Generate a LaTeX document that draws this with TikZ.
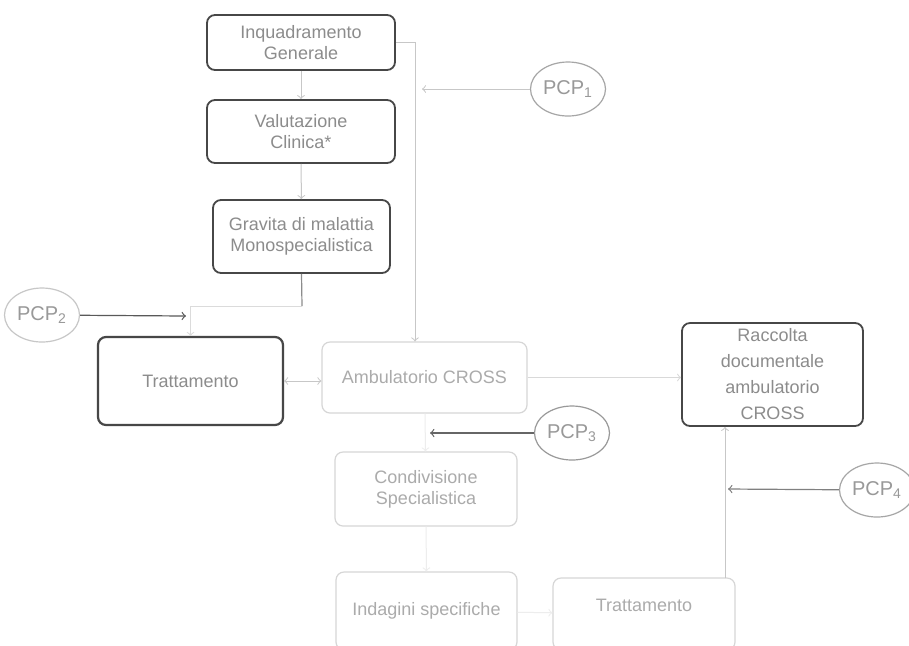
\documentclass[tikz,border=0pt]{standalone}
\usepackage{fontspec}
\setmainfont{Liberation Sans}
\usetikzlibrary{shapes.geometric}
\tikzset{
	darkbox/.style={draw=black!72, line width=0.9pt, rounded corners=4pt, text=black!45, align=center, inner sep=0pt},
	lightbox/.style={draw=black!16, line width=0.6pt, rounded corners=4pt, text=black!33, align=center, inner sep=0pt},
	pcp/.style={ellipse, draw=black!35, line width=0.6pt, text=black!40, inner sep=0pt, minimum width=37.5pt, minimum height=27pt, font=\fontsize{10}{12}\selectfont},
	faint/.style={draw=black!22, line width=0.5pt, ->},
}

\begin{document}
\begin{tikzpicture}[x=0.5pt, y=-0.5pt, font=\fontsize{9}{10.5}\selectfont]
		%%%%% START %%%%%
		
		\fill[white] (0, 0) rectangle (909, 645);
		\useasboundingbox (0, 0) rectangle (909, 645);
		\clip (0, 0) rectangle (909, 645);
		
		\node[darkbox, minimum width=94pt, minimum height=27.5pt] (inq) at (301, 42.5) {Inquadramento\\Generale};
		\node[darkbox, minimum width=94pt, minimum height=31.5pt] (val) at (301, 131.5) {Valutazione\\Clinica*};
		\node[darkbox, minimum width=88.5pt, minimum height=36.5pt] (grav) at (301.5, 236.5) {Gravita di malattia\\Monospecialistica};
		
		\node[darkbox, line width=1.1pt, minimum width=92.5pt, minimum height=44pt] (trat) at (190.5, 381) {Trattamento};
		\node[lightbox, minimum width=102.5pt, minimum height=35.5pt] (amb) at (424.5, 377.5) {Ambulatorio CROSS};
		\node[darkbox, minimum width=90.5pt, minimum height=51.5pt, font=\fontsize{9}{13}\selectfont] (rac) at (772.5, 374.5) {Raccolta\\documentale\\ambulatorio\\CROSS};
		
		\node[lightbox, minimum width=91pt, minimum height=37pt] (cond) at (426, 489) {Condivisione\\Specialistica};
		\node[lightbox, minimum width=90.5pt, minimum height=39pt, text depth=2pt] (ind) at (426.5, 611) {Indagini specifiche};
		\node[lightbox, minimum width=91pt, minimum height=36pt, text depth=9pt] (trat2) at (644, 614) {Trattamento};
		
		\node[pcp] (pcp1) at (568, 89) {PCP\textsubscript{1}};
		\node[pcp, draw=black!22] (pcp2) at (42, 315) {PCP\textsubscript{2}};
		\node[pcp, draw=black!40] (pcp3) at (572, 433) {PCP\textsubscript{3}};
		\node[pcp] (pcp4) at (877, 490) {PCP\textsubscript{4}};
		
		% left column
		\draw[faint] (inq) -- (val);
		\draw[faint] (val) -- (grav);
		\coordinate (gk) at (302, 306);
		\draw[black!45, line width=0.6pt] (grav.south) -- (gk);
		\draw[faint, draw=black!14] (gk) -| (trat.north);
		\coordinate (p2end) at (186, 316);
		\draw[->, black!65, line width=0.6pt] (pcp2) -- (p2end);
		
		% to the CROSS clinic
		\draw[faint] (inq.east) -| ([xshift=-4.75pt]amb.north);
		\coordinate (p1end) at (422, 89);
		\draw[faint] (pcp1) -- (p1end);
		\draw[faint, <->] (trat.east) -- (trat.east -| amb.west);
		\draw[faint, draw=black!15] (amb.east) -- (amb.east -| rac.west);
		\coordinate (p3end) at (430, 433);
		\draw[->, black!60, line width=0.6pt] (pcp3) -- (p3end);
		
		% lower row
		\draw[faint, draw=black!7] (amb) -- (cond);
		\draw[faint, draw=black!7] (cond) -- (ind);
		\draw[faint, draw=black!7] (ind) -- (trat2);
		\coordinate (t2top) at (725, 578);
		\draw[faint] (t2top) -- (t2top |- rac.south);
		\coordinate (p4end) at (728, 489);
		\draw[->, black!50, line width=0.6pt] (pcp4) -- (p4end);
		
		%%%%% END %%%%%
	\end{tikzpicture}
\end{document}
